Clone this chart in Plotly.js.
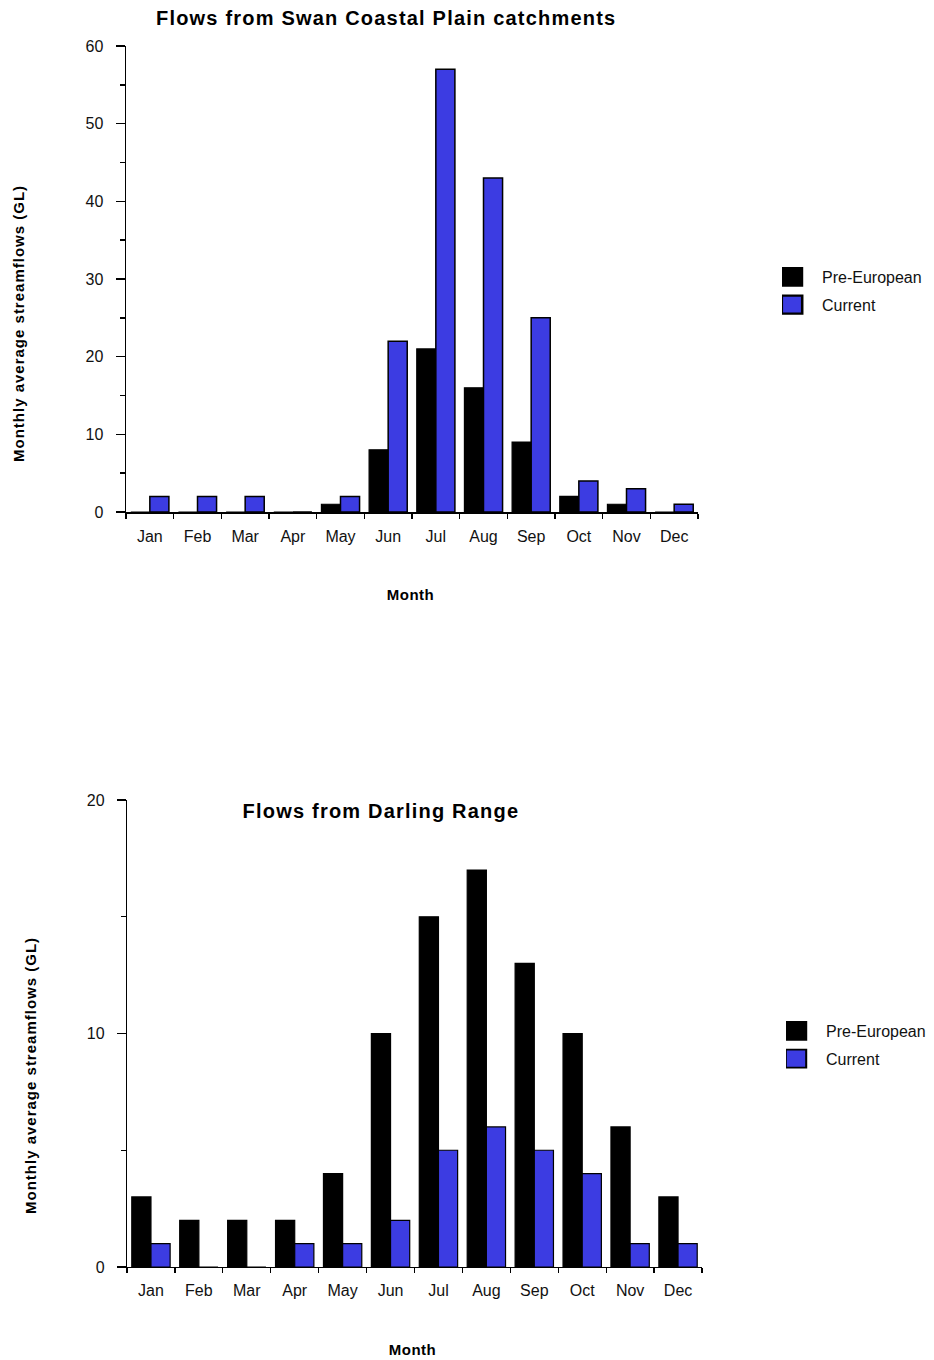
<!DOCTYPE html>
<html>
<head>
<meta charset="utf-8">
<script src="https://cdn.plot.ly/plotly-3.0.1.min.js"></script>
<style>
html,body{margin:0;padding:0;background:#fff;}
#chart{width:934px;height:1360px;}
g.annotation[data-index="0"] text, g.annotation[data-index="1"] text {letter-spacing:1.2px;}
g.annotation[data-index="2"] text, g.annotation[data-index="3"] text {letter-spacing:1px;}
g.annotation[data-index="4"] text, g.annotation[data-index="5"] text {letter-spacing:0.5px;}
</style>
</head>
<body>
<div id="chart"></div>
<script>
const months = ["Jan","Feb","Mar","Apr","May","Jun","Jul","Aug","Sep","Oct","Nov","Dec"];
const swanPreEuropean = [0,0,0,0,1,8,21,16,9,2,1,0];
const swanCurrent     = [2,2,2,0,2,22,57,43,25,4,3,1];
const darlingPreEuropean = [3,2,2,2,4,10,15,17,13,10,6,3];
const darlingCurrent     = [1,0,0,1,1,2,5,6,5,4,1,1];

const seriesNames = ["Pre-European","Current"];
const topTitle = "Flows from Swan Coastal Plain catchments";
const bottomTitle = "Flows from Darling Range";
const yTitle = "Monthly average streamflows (GL)";
const xTitle = "Month";

const FONT = "Arial, 'Liberation Sans', sans-serif";
const BLACK = "#000000";
const BLUE = "#3c3ce2";
const W = 934, H = 1360;
const px = v => v / W;
const py = v => 1 - v / H;

const traces = [
  {type:"bar", x:months, y:swanPreEuropean, name:seriesNames[0], xaxis:"x", yaxis:"y",
   marker:{color:BLACK, line:{color:BLACK, width:1.2}}, legend:"legend", legendgroup:"a1"},
  {type:"bar", x:months, y:swanCurrent, name:seriesNames[1], xaxis:"x", yaxis:"y",
   marker:{color:BLUE, line:{color:BLACK, width:1.5}}, legend:"legend", legendgroup:"a2"},
  {type:"bar", x:months, y:darlingPreEuropean, name:seriesNames[0], xaxis:"x2", yaxis:"y2",
   marker:{color:BLACK, line:{color:BLACK, width:1.2}}, legend:"legend2", legendgroup:"b1"},
  {type:"bar", x:months, y:darlingCurrent, name:seriesNames[1], xaxis:"x2", yaxis:"y2",
   marker:{color:BLUE, line:{color:BLACK, width:1.2}}, legend:"legend2", legendgroup:"b2"}
];

const xCommon = {
  type:"category", showgrid:false, zeroline:false, showline:true, linecolor:BLACK, linewidth:1.5,
  ticks:"outside", tickson:"boundaries", ticklen:5, tickwidth:1.5, tickcolor:BLACK,
  tickfont:{family:FONT, size:16, color:"#111"}, ticklabelstandoff:9, fixedrange:true
};
const yCommon = {
  showgrid:false, zeroline:false, showline:true, linecolor:BLACK, linewidth:1.5,
  ticks:"outside", ticklen:9, tickwidth:1.5, tickcolor:BLACK,
  tickfont:{family:FONT, size:16, color:"#111"}, ticklabelstandoff:9, fixedrange:true
};

const layout = {
  width:W, height:H,
  margin:{l:0,r:0,t:0,b:0},
  paper_bgcolor:"#fff", plot_bgcolor:"#fff",
  barmode:"group", bargap:0.2, bargroupgap:0,
  showlegend:true,
  font:{family:FONT, color:"#000"},
  xaxis:Object.assign({}, xCommon, {domain:[px(126), px(698)], anchor:"y"}),
  yaxis:Object.assign({}, yCommon, {domain:[py(512), py(46)], anchor:"x", range:[0,60], dtick:10,
    minor:{dtick:5, ticks:"outside", ticklen:5, tickwidth:1.5, tickcolor:BLACK, showgrid:false}}),
  xaxis2:Object.assign({}, xCommon, {domain:[px(127), px(702)], anchor:"y2", linewidth:1.2, tickwidth:1.2}),
  yaxis2:Object.assign({}, yCommon, {domain:[py(1267), py(800)], anchor:"x2", range:[0,20], dtick:10, linewidth:1.2, tickwidth:1.2,
    minor:{dtick:5, ticks:"outside", ticklen:5, tickwidth:1.2, tickcolor:BLACK, showgrid:false}}),
  legend:{x:px(782), y:py(260), xanchor:"left", yanchor:"top", bgcolor:"rgba(0,0,0,0)",
    font:{family:FONT, size:16, color:"#111"}, tracegroupgap:4, itemclick:false, itemdoubleclick:false},
  legend2:{x:px(786), y:py(1014), xanchor:"left", yanchor:"top", bgcolor:"rgba(0,0,0,0)",
    font:{family:FONT, size:16, color:"#111"}, tracegroupgap:4, itemclick:false, itemdoubleclick:false},
  annotations:[
    {text:"<b>"+topTitle+"</b>", xref:"paper", yref:"paper", x:px(386), y:py(18), showarrow:false,
     xanchor:"center", yanchor:"middle", font:{family:FONT, size:20, color:"#000"}},
    {text:"<b>"+bottomTitle+"</b>", xref:"paper", yref:"paper", x:px(381), y:py(811), showarrow:false,
     xanchor:"center", yanchor:"middle", font:{family:FONT, size:20, color:"#000"}},
    {text:"<b>"+yTitle+"</b>", xref:"paper", yref:"paper", x:px(18), y:py(324), showarrow:false, textangle:-90,
     xanchor:"center", yanchor:"middle", font:{family:FONT, size:15, color:"#000"}},
    {text:"<b>"+yTitle+"</b>", xref:"paper", yref:"paper", x:px(30), y:py(1076), showarrow:false, textangle:-90,
     xanchor:"center", yanchor:"middle", font:{family:FONT, size:15, color:"#000"}},
    {text:"<b>"+xTitle+"</b>", xref:"paper", yref:"paper", x:px(410), y:py(594), showarrow:false,
     xanchor:"center", yanchor:"middle", font:{family:FONT, size:15, color:"#000"}},
    {text:"<b>"+xTitle+"</b>", xref:"paper", yref:"paper", x:px(412), y:py(1349), showarrow:false,
     xanchor:"center", yanchor:"middle", font:{family:FONT, size:15, color:"#000"}}
  ]
};

Plotly.newPlot("chart", traces, layout, {displayModeBar:false, staticPlot:true}).then(function(gd){
  // enlarge legend swatches to match the reference's larger squares
  gd.querySelectorAll(".legendpoints path").forEach(function(p){
    p.setAttribute("transform", "translate(10,0) scale(1.7,1.5)");
  });
});
</script>
</body>
</html>
